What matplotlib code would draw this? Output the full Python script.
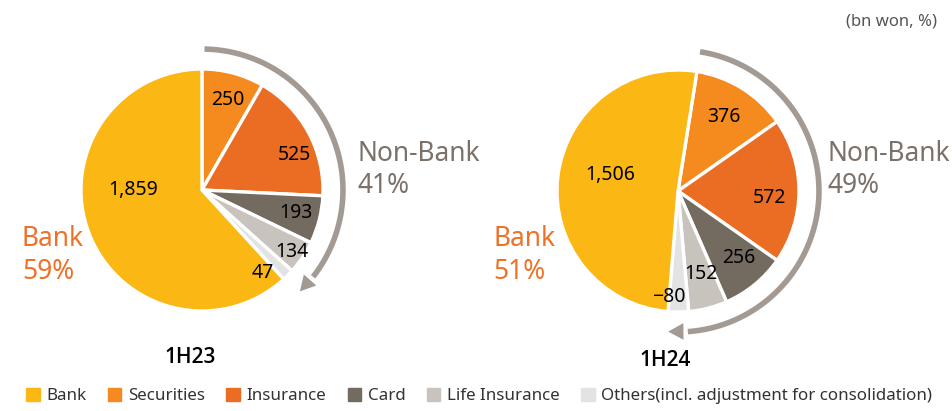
import numpy as np
import matplotlib.pyplot as plt

plt.rcParams['font.family'] = ['Noto Sans', 'DejaVu Sans']

# data (bn won)
segments = ['Securities', 'Insurance', 'Card', 'Life Insurance', 'Others', 'Bank']
legend_names = ['Bank', 'Securities', 'Insurance', 'Card', 'Life Insurance',
                'Others(incl. adjustment for consolidation)']
vals_1h23 = [250, 525, 193, 134, 47, 1859]
vals_1h24 = [376, 572, 256, 152, -80, 1506]
bank_share = ['59%', '51%']
nonbank_share = ['41%', '49%']
periods = ['1H23', '1H24']

colors = {'Bank': '#FBB714', 'Securities': '#F58B1F', 'Insurance': '#EB6C23',
          'Card': '#736A60', 'Life Insurance': '#C8C3BC', 'Others': '#E3E3E3'}
arc_col = '#A39B93'

W, H = 953, 411
fig = plt.figure(figsize=(W / 100, H / 100), dpi=100)

R = 121  # pie radius in px
S = 165  # half size of each axes box in px


def pie_axes(cx, cy):
    ax = fig.add_axes([(cx - S) / W, 1 - (cy + S) / H, 2 * S / W, 2 * S / H])
    ax.axis('off')
    return ax


def draw(ax, vals, start, arc_a0, arc_a1, label_xy):
    ax.pie([abs(v) for v in vals], colors=[colors[s] for s in segments],
           startangle=start, counterclock=False, radius=1,
           wedgeprops=dict(edgecolor='white', linewidth=2.4))
    ax.set_xlim(-S / R, S / R)
    ax.set_ylim(-S / R, S / R)
    ax.set_aspect('equal')
    # grey arc with arrow around the non-bank part
    ra = 1.165
    t = np.radians(np.linspace(arc_a0, arc_a1 + 8, 100))
    ax.plot(ra * np.cos(t), ra * np.sin(t), color=arc_col, lw=4.0,
            solid_capstyle='butt')
    e = np.radians(arc_a1)
    b = np.radians(arc_a1 + 9)
    ax.annotate('', xy=(ra * np.cos(e), ra * np.sin(e)),
                xytext=(ra * np.cos(b), ra * np.sin(b)),
                arrowprops=dict(arrowstyle='-|>,head_length=1.1,head_width=0.6',
                                color=arc_col, lw=0, shrinkA=0, shrinkB=0))
    for v, (x, y) in zip(vals, label_xy):
        txt = f'{v:,}'.replace('-', '\u2212')
        ax.text(x, y, txt, ha='center', va='center', fontsize=14, color='black')


ax1 = pie_axes(202, 190)
draw(ax1, vals_1h23, 90, 89, -46,
     [(0.21, 0.74), (0.76, 0.29), (0.78, -0.19), (0.74, -0.51), (0.50, -0.69), (-0.57, 0.0)])
ax2 = pie_axes(678, 191)
draw(ax2, vals_1h24, 81, 81, -94,
     [(0.38, 0.61), (0.76, -0.06), (0.50, -0.55), (0.19, -0.69), (-0.08, -0.88), (-0.56, 0.13)])

orange = '#EE7127'
grey = '#7B7169'
for x0, i in [(358, 0), (828, 1)]:
    fig.text(x0 / W, 1 - 161 / H, 'Non-Bank', fontsize=19, color=grey, va='baseline')
    fig.text(x0 / W, 1 - 193 / H, nonbank_share[i], fontsize=19, color=grey, va='baseline')
for x0, i in [(22, 0), (493, 1)]:
    fig.text(x0 / W, 1 - 246 / H, 'Bank', fontsize=19, color=orange, va='baseline')
    fig.text(x0 / W, 1 - 279 / H, bank_share[i], fontsize=19, color=orange, va='baseline')

bold_fam = ['Open Sans', 'DejaVu Sans']
fig.text(190 / W, 1 - 363 / H, periods[0], fontsize=15, fontweight='semibold', family=bold_fam,
         ha='center', va='baseline')
fig.text(665 / W, 1 - 366 / H, periods[1], fontsize=15, fontweight='semibold', family=bold_fam,
         ha='center', va='baseline')
fig.text(937 / W, 1 - 25 / H, '(bn won, %)', fontsize=12, color='#555555', ha='right', va='baseline')

handles = [plt.Rectangle((0, 0), 1, 1, color=colors[k]) for k in
           ['Bank', 'Securities', 'Insurance', 'Card', 'Life Insurance', 'Others']]
fig.legend(handles, legend_names, loc='lower center', bbox_to_anchor=(0.503, -0.02),
           ncol=6, frameon=False, fontsize=12.2, handlelength=0.8, handleheight=0.8,
           handletextpad=0.4, columnspacing=1.25, labelcolor='#333333')

fig.savefig('out.png', dpi=100)
